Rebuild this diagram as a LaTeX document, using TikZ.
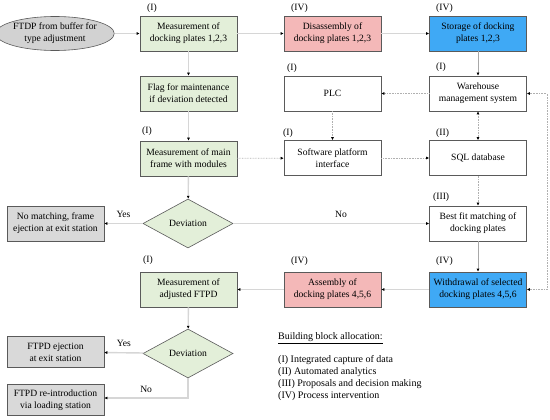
\documentclass[tikz,border=0pt]{standalone}
\usepackage{fontspec}
\setmainfont{Liberation Serif}
\usetikzlibrary{shapes.geometric,arrows.meta}
\definecolor{boxgreen}{HTML}{E3EFD9}
\definecolor{boxpink}{HTML}{F4B8B8}
\definecolor{boxblue}{HTML}{3FA9F5}
\definecolor{boxgray}{HTML}{D9D9D9}
\definecolor{ellgray}{HTML}{D2D2D2}
\definecolor{edgegray}{HTML}{5A5A5A}
\definecolor{flowgray}{HTML}{D6D6D6}
\definecolor{thingray}{HTML}{A8A8A8}
\definecolor{dotgray}{HTML}{B0B0B0}
\begin{document}
\begin{tikzpicture}[x=1pt,y=-1pt,
  every node/.style={font=\fontsize{9.6}{12}\selectfont},
  procbox/.style={draw=edgegray,line width=0.6pt,rectangle,minimum width=97pt,minimum height=35pt,align=center,inner sep=1pt},
  greenbox/.style={procbox,fill=boxgreen},
  pinkbox/.style={procbox,fill=boxpink},
  bluebox/.style={procbox,fill=boxblue},
  graybox/.style={procbox,fill=boxgray},
  whitebox/.style={procbox,fill=white},
  decbox/.style={draw=edgegray,line width=0.6pt,diamond,fill=boxgreen,minimum width=90pt,minimum height=49pt,inner sep=0pt},
  tag/.style={anchor=west,inner sep=0pt},
  flow/.style={draw=flowgray,line width=1.4pt,-{Latex[length=3pt,width=3pt,color=black]}},
  thinflow/.style={draw=thingray,line width=0.6pt,-{Latex[length=3pt,width=3pt,color=black]}},
  info/.style={draw=dotgray,line width=0.7pt,dash pattern=on 0.7pt off 0.9pt,-{Latex[length=3pt,width=3pt,color=black]}},
  infoboth/.style={draw=dotgray,line width=0.7pt,dash pattern=on 0.7pt off 0.9pt,{Latex[length=3pt,width=3pt,color=black]}-{Latex[length=3pt,width=3pt,color=black]}},
  lab/.style={inner sep=0pt}
]
\useasboundingbox (0,0) rectangle (550,420);

% nodes
\node[ellipse,draw=edgegray,line width=0.6pt,fill=ellgray,minimum width=106pt,minimum height=34pt,inner sep=0pt,align=center] (ell) at (55,33.5) {FTDP from buffer for\\type adjustment};
\node[greenbox] (md) at (188.5,33.5) {Measurement of\\docking plates 1,2,3};
\node[pinkbox] (dis) at (332.5,33.5) {Disassembly of\\docking plates 1,2,3};
\node[bluebox] (sto) at (478,33.5) {Storage of docking\\plates 1,2,3};
\node[greenbox] (flag) at (188.5,93.5) {Flag for maintenance\\if deviation detected};
\node[whitebox] (plc) at (332.5,93.5) {PLC};
\node[whitebox] (wms) at (478,93.5) {Warehouse\\management system};
\node[greenbox] (mf) at (188.5,158.5) {Measurement of main\\frame with modules};
\node[whitebox] (spi) at (332.5,158) {Software platform\\interface};
\node[whitebox] (sql) at (478,158) {SQL database};
\node[decbox] (dev1) at (188,223.5) {Deviation};
\node[graybox] (nom) at (55.5,223.5) {No matching, frame\\ejection at exit station};
\node[whitebox] (bf) at (478,223.5) {Best fit matching of\\docking plates};
\node[greenbox] (maf) at (188.5,289.5) {Measurement of\\adjusted FTPD};
\node[pinkbox] (asm) at (332.5,289.5) {Assembly of\\docking plates 4,5,6};
\node[bluebox] (wd) at (478,289.5) {Withdrawal of selected\\docking plates 4,5,6};
\node[decbox] (dev2) at (188,353.5) {Deviation};
\node[graybox,minimum height=31pt] (ej) at (55.5,352) {FTPD ejection\\at exit station};
\node[graybox,minimum height=31pt] (rei) at (55.5,400) {FTPD re-introduction\\via loading station};

% tags
\node[tag] (t1) at (147,8) {(I)};
\node[tag] (t2) at (291,8) {(IV)};
\node[tag] (t3) at (436,8) {(IV)};
\node[tag] (t4) at (287,68) {(I)};
\node[tag] (t5) at (436,67) {(I)};
\node[tag] (t6) at (142,131) {(I)};
\node[tag] (t7) at (283,133) {(I)};
\node[tag] (t8) at (436,133) {(II)};
\node[tag] (t9) at (433,197) {(III)};
\node[tag] (t10) at (143,260) {(I)};
\node[tag] (t11) at (291,261) {(IV)};
\node[tag] (t12) at (436,261) {(IV)};

% connectors
\draw[flow] (ell) -- (md);
\draw[flow] (md) -- (dis);
\draw[flow] (dis) -- (sto);
\draw[flow] (md) -- (flag);
\draw[flow] (flag) -- (mf);
\draw[flow] (mf) -- (dev1);
\draw[flow] (dev1) -- node[lab,above=5pt] (y1) {Yes} (nom);
\draw[flow] (dev1) -- node[lab,above=5pt,pos=0.55] (n1) {No} (bf);
\draw[thinflow] (sto) -- (wms);
\draw[info] (wms) -- (plc);
\draw[info] (plc) -- (spi);
\draw[info] (mf) -- (spi);
\draw[info] (spi) -- (sql);
\draw[infoboth] (wms) -- (sql);
\draw[info] (sql) -- (bf);
\draw[thinflow] (bf) -- (wd);
\draw[flow] (wd) -- (asm);
\draw[flow] (asm) -- (maf);
\draw[flow] (maf) -- (dev2);
\draw[flow] (dev2) -- node[lab,above=5pt] (y2) {Yes} (ej);
\coordinate (c1) at (188,398);
\draw[flow] (dev2.south) -- (c1) -- node[lab,above=5pt,pos=0.5] (n2) {No} (c1 -| rei.east);
\coordinate (r1) at (547,289.5);
\coordinate (r2) at (547,93.5);
\draw[infoboth] (wd.east) -- (r1) -- (r2) -- (wms.east);

% legend
\node[anchor=west,inner sep=0pt,font=\fontsize{10}{12}\selectfont] (leg) at (278,338) {\underline{Building block allocation:}};
\node[anchor=north west,inner sep=0pt,align=left,font=\fontsize{10}{12}\selectfont] (legtxt) at (278,355) {(I) Integrated capture of data\\(II) Automated analytics\\(III) Proposals and decision making\\(IV) Process intervention};
\end{tikzpicture}
\end{document}
